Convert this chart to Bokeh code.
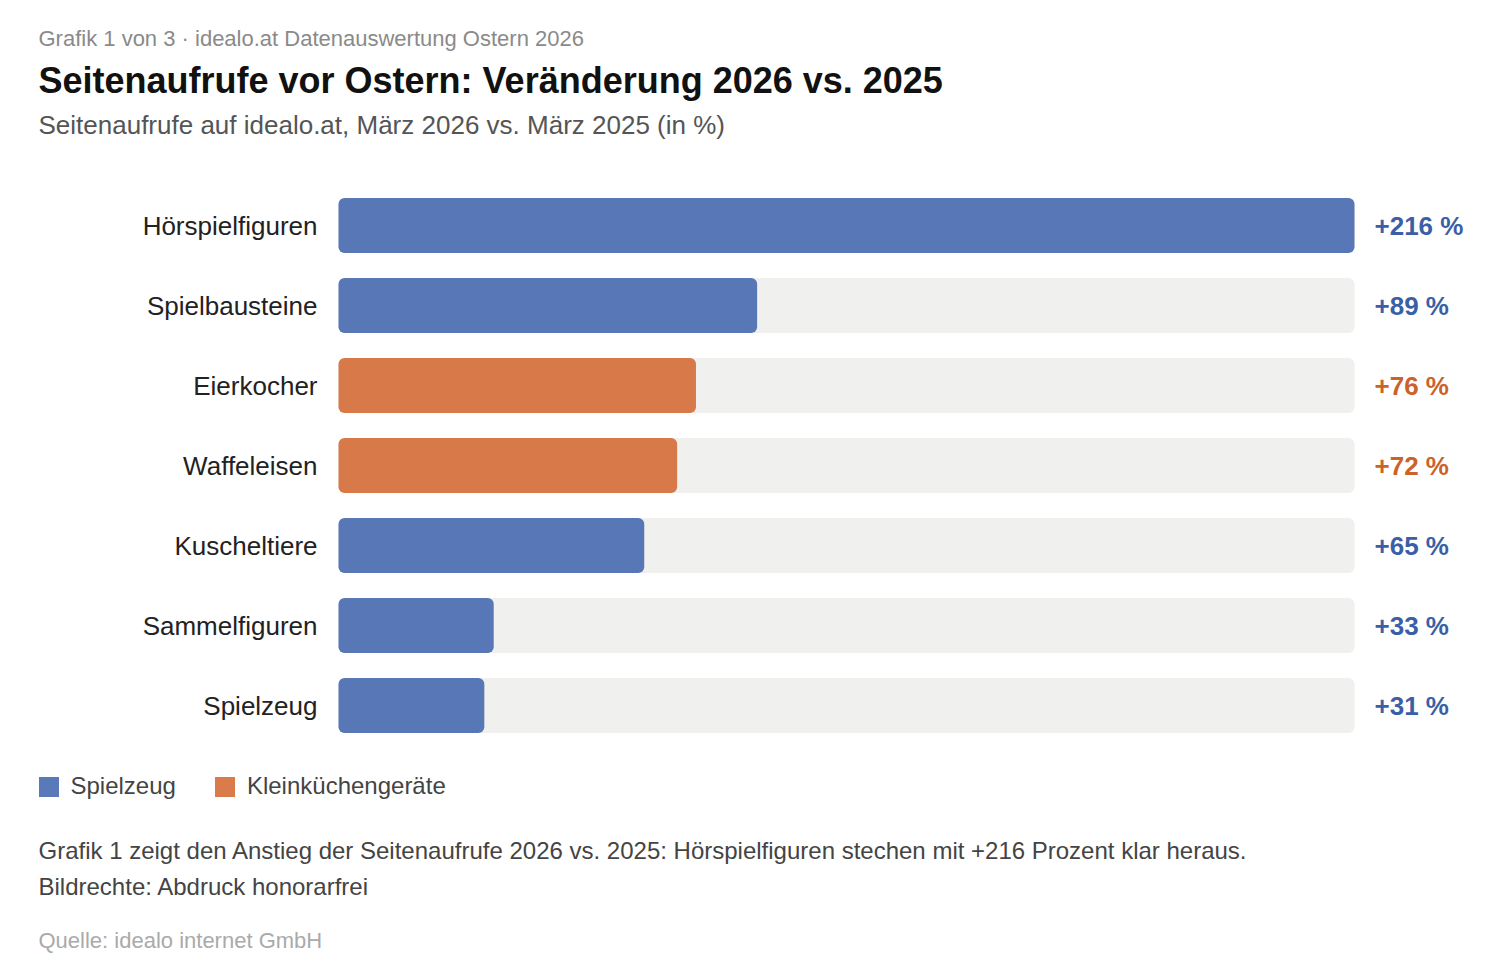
from bokeh.plotting import figure
from bokeh.models import ColumnDataSource, Range1d, Label, Legend, LegendItem
from bokeh.core.properties import value
from bokeh.embed import file_html
from bokeh.resources import INLINE

# ---- data ----
categories = ["Hörspielfiguren", "Spielbausteine", "Eierkocher", "Waffeleisen",
              "Kuscheltiere", "Sammelfiguren", "Spielzeug"]
changes = [216, 89, 76, 72, 65, 33, 31]
groups = ["Spielzeug", "Spielzeug", "Kleinküchengeräte", "Kleinküchengeräte",
          "Spielzeug", "Spielzeug", "Spielzeug"]
group_names = ["Spielzeug", "Kleinküchengeräte"]
group_colors = {"Spielzeug": "#3d62ad", "Kleinküchengeräte": "#d3642b"}
label_colors = {"Spielzeug": "#3b5fa6", "Kleinküchengeräte": "#cc6229"}

FONT = "Liberation Sans"
W, H = 1482, 960
bar_left_px = 338           # frame px where bars start
px_per_unit = 1016 / max(changes)
row_px = 80
first_row_px = 225           # from top of frame

x0 = -bar_left_px / px_per_unit
x1 = (W - bar_left_px) / px_per_unit
y_top = -first_row_px / row_px
y_bot = (H - first_row_px) / row_px

p = figure(width=W, height=H, output_backend="svg", toolbar_location=None,
           x_range=Range1d(x0, x1), y_range=Range1d(y_bot, y_top),
           min_border=0, tools="")
p.axis.visible = False
p.grid.visible = False
p.outline_line_color = None
p.background_fill_color = "white"
p.border_fill_color = "white"

idx = list(range(len(categories)))
track = [max(changes)] * len(categories)
src_all = ColumnDataSource(dict(y=idx, cat=categories, v=changes, track=track,
                                lab=[f"+{v} %" for v in changes],
                                lc=[label_colors[g] for g in groups]))

bar_h = 55 / row_px
p.hbar(y="y", left=0, right="track", height=bar_h, source=src_all,
       fill_color="#f0f0ee", line_color=None, border_radius=6)

renderers = {}
for g in group_names:
    sel = [i for i in idx if groups[i] == g]
    s = ColumnDataSource(dict(y=sel, v=[changes[i] for i in sel]))
    renderers[g] = p.hbar(y="y", left=0, right="v", height=bar_h, source=s,
                          fill_color=group_colors[g], fill_alpha=0.85,
                          line_color=None, border_radius=6)

p.text(x=0, y="y", text="cat", source=src_all, x_offset=-21,
       text_align="right", text_baseline="middle", text_font=value(FONT),
       text_font_size="26px", text_color="#222222")
p.text(x="track", y="y", text="lab", source=src_all, x_offset=20,
       text_align="left", text_baseline="middle", text_font=value(FONT),
       text_font_size="26px", text_font_style="bold", text_color="lc")

legend = Legend(items=[LegendItem(label=g, renderers=[renderers[g]]) for g in group_names],
                orientation="horizontal", location=(35.5, H - 800),
                glyph_width=25, glyph_height=25, label_standoff=10, spacing=36,
                label_text_font=FONT, label_text_font_size="24px",
                label_text_color="#444444", label_height=25,
                padding=0, margin=0, border_line_color=None,
                background_fill_alpha=0)
p.add_layout(legend, "center")

def add_label(txt, page_y, size, color, bold=False):
    p.add_layout(Label(x=38, y=H - page_y, x_units="screen", y_units="screen",
                       text=txt, text_font=FONT, text_font_size=size,
                       text_color=color, text_baseline="middle",
                       text_font_style="bold" if bold else "normal"))

add_label("Grafik 1 von 3 · idealo.at Datenauswertung Ostern 2026", 38, "22px", "#8a8a8a")
add_label("Seitenaufrufe vor Ostern: Veränderung 2026 vs. 2025", 80, "36px", "#111111", True)
add_label("Seitenaufrufe auf idealo.at, März 2026 vs. März 2025 (in %)", 124, "26px", "#555555")
add_label("Grafik 1 zeigt den Anstieg der Seitenaufrufe 2026 vs. 2025: Hörspielfiguren stechen mit +216 Prozent klar heraus.",
          850, "24px", "#444444")
add_label("Bildrechte: Abdruck honorarfrei", 886, "24px", "#444444")
add_label("Quelle: idealo internet GmbH", 940, "22px", "#aaaaaa")

open("out.html", "w").write(file_html(p, INLINE))
